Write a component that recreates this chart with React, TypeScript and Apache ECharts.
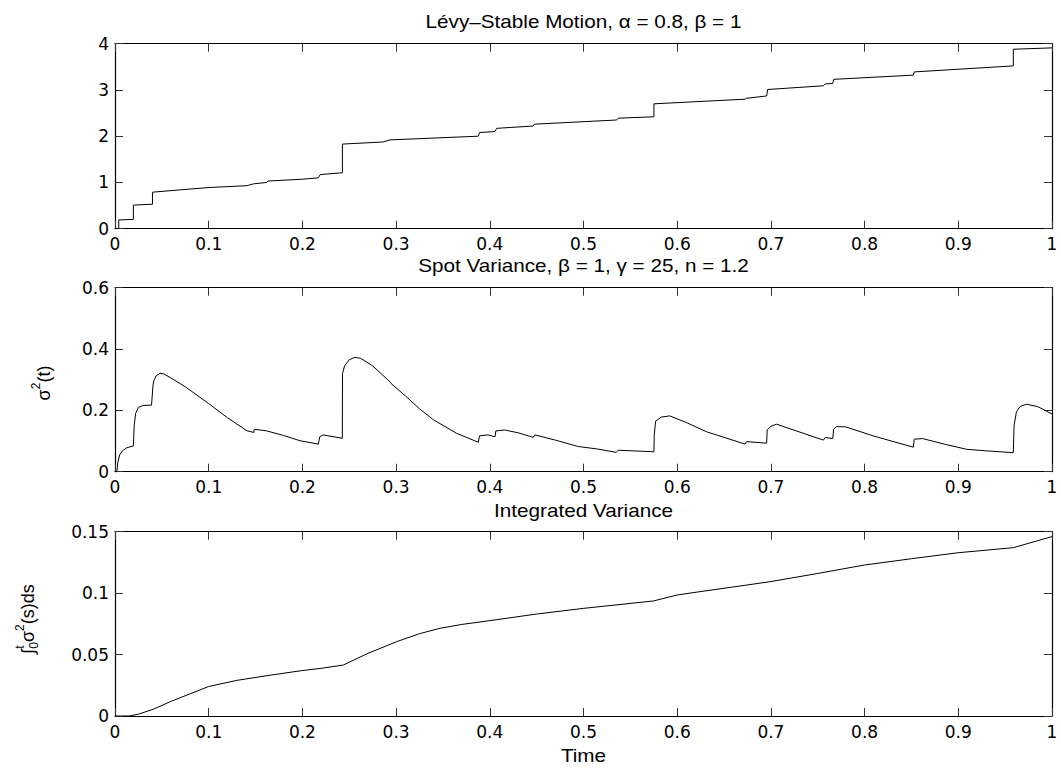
import React, { useEffect, useRef } from "react";
import * as echarts from "echarts";

// ---- Data ----
const levyData: [number, number][] = [
  [0, 0], [0.004, 0], [0.004, 0.19], [0.0196, 0.2], [0.0196, 0.51], [0.04, 0.53], [0.04, 0.79],
  [0.07, 0.84], [0.1, 0.89], [0.1405, 0.93], [0.1425, 0.94], [0.148, 0.97], [0.162, 1.0],
  [0.163, 1.03], [0.2, 1.07], [0.217, 1.1], [0.219, 1.17], [0.2427, 1.21], [0.2427, 1.83],
  [0.2864, 1.875], [0.2935, 1.92], [0.3878, 2.0], [0.389, 2.08], [0.4055, 2.1], [0.4073, 2.17],
  [0.4464, 2.22], [0.4475, 2.26], [0.5354, 2.35], [0.537, 2.39], [0.5752, 2.42], [0.5752, 2.7],
  [0.6724, 2.8], [0.674, 2.82], [0.6955, 2.87], [0.6965, 3.01], [0.7559, 3.09], [0.758, 3.13],
  [0.766, 3.14], [0.767, 3.23], [0.852, 3.32], [0.853, 3.39], [0.9587, 3.52], [0.9587, 3.88],
  [1, 3.91],
];

const spotData: [number, number][] = [
  [0, 0], [0.002, 0], [0.003, 0.03], [0.005, 0.055], [0.008, 0.068], [0.0125, 0.078],
  [0.0196, 0.084], [0.0205, 0.15], [0.022, 0.19], [0.025, 0.21], [0.03, 0.216], [0.039, 0.217],
  [0.0405, 0.28], [0.0415, 0.297], [0.044, 0.313], [0.048, 0.321], [0.052, 0.319], [0.06, 0.305],
  [0.075, 0.277], [0.0996, 0.223], [0.12, 0.176], [0.1405, 0.134], [0.148, 0.128], [0.1485, 0.138],
  [0.155, 0.136], [0.162, 0.133], [0.18, 0.118], [0.1974, 0.101], [0.217, 0.09], [0.2185, 0.114],
  [0.222, 0.12], [0.2426, 0.109], [0.2428, 0.32], [0.245, 0.345], [0.25, 0.365], [0.256, 0.373],
  [0.262, 0.37], [0.275, 0.345], [0.2935, 0.293], [0.2945, 0.288], [0.31, 0.247], [0.325, 0.205],
  [0.34, 0.169], [0.3647, 0.125], [0.3878, 0.096], [0.389, 0.117], [0.398, 0.12], [0.4056, 0.114],
  [0.4065, 0.133], [0.416, 0.136], [0.43, 0.127], [0.4464, 0.112], [0.448, 0.12], [0.47, 0.103],
  [0.4945, 0.082], [0.515, 0.074], [0.535, 0.063], [0.537, 0.07], [0.5752, 0.065], [0.5755, 0.12],
  [0.577, 0.165], [0.583, 0.178], [0.592, 0.182], [0.61, 0.16], [0.6315, 0.13], [0.65, 0.112],
  [0.6724, 0.09], [0.674, 0.098], [0.6955, 0.093], [0.696, 0.136], [0.7, 0.148], [0.706, 0.155],
  [0.73, 0.13], [0.756, 0.103], [0.758, 0.112], [0.766, 0.108], [0.767, 0.139], [0.77, 0.147],
  [0.78, 0.146], [0.81, 0.116], [0.852, 0.08], [0.853, 0.106], [0.862, 0.108], [0.885, 0.09],
  [0.909, 0.073], [0.93, 0.068], [0.9587, 0.062], [0.9595, 0.15], [0.962, 0.195], [0.966, 0.213],
  [0.973, 0.22], [0.985, 0.212], [1, 0.188],
];

const intData: [number, number][] = [
  [0, 0], [0.015, 0], [0.025, 0.0015], [0.041, 0.0055], [0.06, 0.012], [0.08, 0.018],
  [0.0996, 0.0239], [0.13, 0.029], [0.162, 0.0328], [0.199, 0.0369], [0.22, 0.0388],
  [0.2437, 0.0415], [0.27, 0.051], [0.3006, 0.0605], [0.325, 0.067], [0.347, 0.0714],
  [0.37, 0.0745], [0.4, 0.0776], [0.45, 0.083], [0.5, 0.0876], [0.5745, 0.0936], [0.6, 0.0985],
  [0.6243, 0.1012], [0.667, 0.1058], [0.699, 0.1093], [0.75, 0.116], [0.8, 0.1229], [0.85, 0.128],
  [0.9, 0.1329], [0.9587, 0.137], [1, 0.146],
];

const titles = [
  "Lévy–Stable Motion, α = 0.8, β = 1",
  "Spot Variance, β = 1, γ = 25, n = 1.2",
  "Integrated Variance",
];
const xAxisTitle = "Time";
const yRanges = [
  { min: 0, max: 4, interval: 1 },
  { min: 0, max: 0.6, interval: 0.2 },
  { min: 0, max: 0.15, interval: 0.05 },
];
const xRange = { min: 0, max: 1, interval: 0.1 };

// ---- Layout ----
const W = 1061;
const H = 769;
const FONT = "'Liberation Sans', Arial, Helvetica, sans-serif";
const TICK_FONT = "'DejaVu Sans', sans-serif";
const FS = 18;
const TICK_FS = 17;
const SUP = 12;
const STRETCH = 1.15;
const PLOT_LEFT = 115;
const PLOT_RIGHT = 1052;
const grids = [
  { top: 43.7, height: 185 },
  { top: 287.7, height: 184 },
  { top: 531.7, height: 184.3 },
];
const titleY = [22, 265.5, 511];
const timeY = 755.5;

function measure(text: string, size: number): number {
  const ctx = document.createElement("canvas").getContext("2d");
  if (!ctx) return text.length * size * 0.55;
  ctx.font = `${size}px ${FONT}`;
  return ctx.measureText(text).width;
}

function txt(text: string, x: number, y: number, size: number, align = "left", scaleX = 1) {
  return {
    type: "text",
    x,
    y,
    scaleX,
    style: {
      text,
      fill: "#000",
      fontSize: size,
      fontFamily: FONT,
      align,
      verticalAlign: "middle",
    },
  };
}

function sigmaLabel() {
  const w1 = measure("σ", FS);
  const w2 = measure("2", SUP);
  const w3 = measure("(t)", FS);
  const total = w1 + w2 + w3;
  const x0 = -total / 2;
  return {
    type: "group",
    x: 44,
    y: 383,
    rotation: Math.PI / 2,
    children: [
      txt("σ", x0, 0, FS),
      txt("2", x0 + w1, -8, SUP),
      txt("(t)", x0 + w1 + w2, 0, FS),
    ],
  };
}

function integralLabel() {
  const wi = measure("∫", FS);
  const ws = Math.max(measure("t", SUP), measure("0", SUP));
  const w1 = measure("σ", FS);
  const w2 = measure("2", SUP);
  const w3 = measure("(s)ds", FS);
  const total = wi + ws + w1 + w2 + w3;
  const x0 = -total / 2;
  return {
    type: "group",
    x: 28,
    y: 619,
    rotation: Math.PI / 2,
    children: [
      txt("∫", x0, 0, FS),
      txt("t", x0 + wi, -8, SUP),
      txt("0", x0 + wi, 6, SUP),
      txt("σ", x0 + wi + ws, 0, FS),
      txt("2", x0 + wi + ws + w1, -8, SUP),
      txt("(s)ds", x0 + wi + ws + w1 + w2, 0, FS),
    ],
  };
}

export default function App() {
  const ref = useRef<HTMLDivElement>(null);
  useEffect(() => {
    if (!ref.current) return;
    const chart = echarts.init(ref.current, undefined, { renderer: "svg" });
    const datasets = [levyData, spotData, intData];

    const axisLine = { show: true, onZero: false, lineStyle: { color: "#000", width: 1.2 } };
    const axisTick = { show: true, inside: true, length: 8, lineStyle: { color: "#333", width: 1 } };
    const labelStyle = { color: "#000", fontSize: TICK_FS, fontFamily: TICK_FONT };

    const xAxes: any[] = [];
    const yAxes: any[] = [];
    const series: any[] = [];
    grids.forEach((g, i) => {
      xAxes.push({
        type: "value", gridIndex: i, position: "bottom", ...xRange,
        axisLine, axisTick, splitLine: { show: false },
        axisLabel: { ...labelStyle, margin: 7 },
      });
      xAxes.push({
        type: "value", gridIndex: i, position: "top", ...xRange,
        axisLine, axisTick, splitLine: { show: false },
        axisLabel: { show: false },
      });
      yAxes.push({
        type: "value", gridIndex: i, position: "left", ...yRanges[i],
        axisLine, axisTick, splitLine: { show: false },
        axisLabel: { ...labelStyle, margin: 6 },
      });
      yAxes.push({
        type: "value", gridIndex: i, position: "right", ...yRanges[i],
        axisLine, axisTick, splitLine: { show: false },
        axisLabel: { show: false },
      });
      series.push({
        type: "line",
        xAxisIndex: i * 2,
        yAxisIndex: i * 2,
        data: datasets[i],
        showSymbol: false,
        symbol: "none",
        lineStyle: { color: "#000", width: 1 },
        clip: true,
      });
    });

    const graphic: any[] = [];
    const cx = (PLOT_LEFT + PLOT_RIGHT) / 2;
    titles.forEach((t, i) => graphic.push(txt(t, cx, titleY[i], FS, "center", STRETCH)));
    graphic.push(txt(xAxisTitle, cx, timeY, FS, "center", STRETCH));
    graphic.push(sigmaLabel());
    graphic.push(integralLabel());

    chart.setOption({
      animation: false,
      backgroundColor: "#fff",
      grid: grids.map((g) => ({
        left: PLOT_LEFT,
        width: PLOT_RIGHT - PLOT_LEFT,
        top: g.top,
        height: g.height,
        containLabel: false,
      })),
      xAxis: xAxes,
      yAxis: yAxes,
      series,
      graphic,
    });
    return () => chart.dispose();
  }, []);
  return (
    <div
      ref={ref}
      style={{ position: "absolute", left: 0, top: 0, width: W, height: H, background: "#fff" }}
    />
  );
}
